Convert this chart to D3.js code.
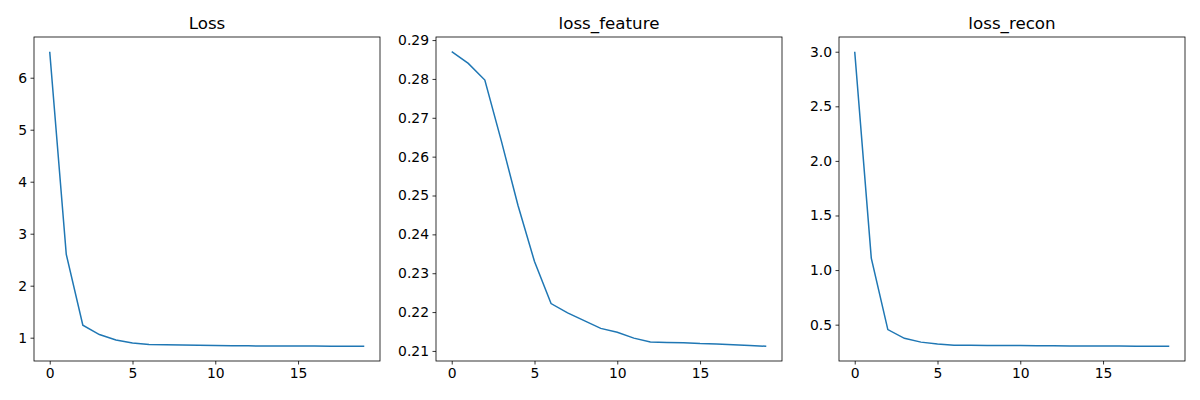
<!DOCTYPE html>
<html>
<head>
<meta charset="utf-8">
<script src="https://cdn.jsdelivr.net/npm/d3@7"></script>
<style>
  body { margin: 0; background: #fff; }
  text { font-family: "DejaVu Sans", sans-serif; }
</style>
</head>
<body>
<script>
const width = 1200;
const height = 400;

const epochs = d3.range(20);
const lossValues = [6.5, 2.6, 1.24, 1.06, 0.955, 0.9, 0.87, 0.862, 0.858, 0.855, 0.851, 0.847, 0.843, 0.841, 0.84, 0.839, 0.838, 0.837, 0.836, 0.835];
const featureValues = [0.287, 0.284, 0.2797, 0.264, 0.2475, 0.233, 0.2222, 0.2198, 0.2178, 0.2158, 0.2148, 0.2133, 0.2123, 0.2122, 0.2121, 0.2119, 0.2118, 0.2116, 0.2114, 0.2112];
const reconValues = [3.0, 1.11, 0.455, 0.375, 0.34, 0.322, 0.312, 0.311, 0.31, 0.309, 0.308, 0.307, 0.306, 0.305, 0.305, 0.304, 0.304, 0.303, 0.303, 0.302];
const titles = ["Loss", "loss_feature", "loss_recon"];
const xTicks = [0, 5, 10, 15];
const lossTicks = [1, 2, 3, 4, 5, 6];
const featureTicks = [0.21, 0.22, 0.23, 0.24, 0.25, 0.26, 0.27, 0.28, 0.29];
const reconTicks = [0.5, 1.0, 1.5, 2.0, 2.5, 3.0];

const panels = [
  { title: titles[0], values: lossValues, ticks: lossTicks, fmt: d3.format("d"), left: 34 },
  { title: titles[1], values: featureValues, ticks: featureTicks, fmt: d3.format(".2f"), left: 436 },
  { title: titles[2], values: reconValues, ticks: reconTicks, fmt: d3.format(".1f"), left: 839 }
];
const panelW = 346, plotTop = 37, plotBottom = 361;

const svg = d3.select("body").append("svg")
  .attr("width", width)
  .attr("height", height);

panels.forEach(p => {
  // marges de 5% comme matplotlib
  const [lo, hi] = d3.extent(p.values);
  const pad = (hi - lo) * 0.05;
  const y = d3.scaleLinear().domain([lo - pad, hi + pad]).range([plotBottom, plotTop]);
  const x = d3.scaleLinear().domain([-0.95, 19.95]).range([p.left, p.left + panelW]);

  const g = svg.append("g");

  const xAxis = g.append("g")
    .attr("transform", `translate(0,${plotBottom})`)
    .call(d3.axisBottom(x).tickValues(xTicks).tickSize(3.5).tickPadding(3.5));
  const yAxis = g.append("g")
    .attr("transform", `translate(${p.left},0)`)
    .call(d3.axisLeft(y).tickValues(p.ticks).tickFormat(p.fmt).tickSize(3.5).tickPadding(3.5));
  [xAxis, yAxis].forEach(a => {
    a.select(".domain").remove();
    a.selectAll("text").attr("font-size", "13.9px").attr("fill", "#000")
      .style("font-family", "DejaVu Sans, sans-serif");
    a.selectAll("line").attr("stroke", "#000").attr("stroke-width", 0.8);
  });

  g.append("path")
    .datum(p.values)
    .attr("fill", "none")
    .attr("stroke", "#1f77b4")
    .attr("stroke-width", 1.5)
    .attr("d", d3.line().x((d, i) => x(epochs[i])).y(d => y(d)));

  g.append("rect")
    .attr("x", p.left).attr("y", plotTop)
    .attr("width", panelW).attr("height", plotBottom - plotTop)
    .attr("fill", "none").attr("stroke", "#000").attr("stroke-width", 0.8);

  g.append("text")
    .attr("x", p.left + panelW / 2)
    .attr("y", plotTop - 8)
    .attr("text-anchor", "middle")
    .attr("font-size", "16.7px")
    .text(p.title);
});
</script>
</body>
</html>
